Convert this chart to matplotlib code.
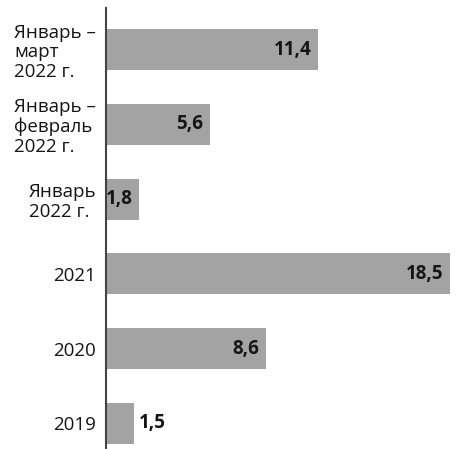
import matplotlib
matplotlib.use("Agg")
import matplotlib.pyplot as plt

categories = ["2019", "2020", "2021", "Январь\n2022 г.", "Январь –\nфевраль\n2022 г.", "Январь –\nмарт\n2022 г."]
values = [1.5, 8.6, 18.5, 1.8, 5.6, 11.4]

plt.rcParams["font.family"] = ["Open Sans", "DejaVu Sans"]

fig = plt.figure(figsize=(4.63, 4.49), dpi=100)
ax = fig.add_axes([106 / 463, 0.0, (459 - 106) / 463, 1 - 8 / 449])

ypos = list(range(len(values)))
ax.barh(ypos, values, height=0.55, color="#a3a3a3", zorder=1)
ax.set_xlim(0, 19)
ax.set_ylim(-0.341, 5.555)

for y, v in zip(ypos, values):
    txt = f"{v:.1f}".replace(".", ",")
    if v < 1.7:
        ax.text(v + 0.25, y, txt, ha="left", va="center", fontsize=13.5,
                fontweight="bold", color="#151515")
    else:
        ax.text(v - 0.35, y, txt, ha="right", va="center", fontsize=13.5,
                fontweight="bold", color="#151515")

ax.set_yticks(ypos)
ax.set_yticklabels(categories, fontsize=13.5, color="#151515",
                   multialignment="left", linespacing=1.12)
ax.tick_params(axis="y", length=0, pad=7)
ax.set_xticks([])

for side in ["top", "right", "bottom"]:
    ax.spines[side].set_visible(False)
ax.spines["left"].set_color("#444444")
ax.spines["left"].set_linewidth(1.5)
ax.spines["left"].set_zorder(3)

fig.savefig("out.png", dpi=100)
